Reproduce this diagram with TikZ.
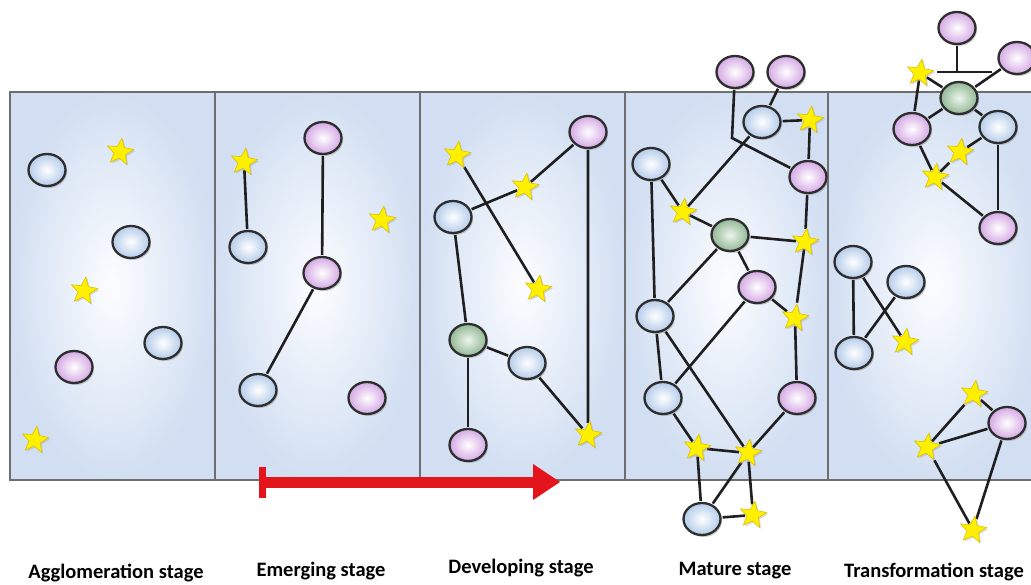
\documentclass[tikz,border=0pt]{standalone}
\usepackage{fontspec}
\setmainfont{Carlito}
\usetikzlibrary{shapes.geometric,shadows}
\pgfdeclarelayer{panellayer}
\pgfdeclarelayer{edgelayer}
\pgfsetlayers{panellayer,edgelayer,main}
\definecolor{bluefill}{HTML}{B4CCEA}
\definecolor{pinkfill}{HTML}{D4A8E4}
\definecolor{greenfill}{HTML}{A2CCA4}
\definecolor{starfill}{HTML}{FFF000}
\definecolor{starline}{HTML}{D9C200}
\definecolor{panelout}{HTML}{D2DFF2}
\definecolor{panelin}{HTML}{FCFDFF}
\definecolor{panelline}{HTML}{6E6E6E}
\definecolor{arrowred}{HTML}{E3141C}
\begin{document}
\begin{tikzpicture}[x=1pt,y=-1pt,
  ball/.style={ellipse, minimum width=37pt, minimum height=32pt, inner sep=0pt,
    draw=black!82, line width=2.3pt,
    drop shadow={shadow xshift=1.5pt, shadow yshift=-2pt, fill=black!45, opacity=.45}},
  bball/.style={ball, inner color=white, outer color=bluefill},
  pball/.style={ball, inner color=white, outer color=pinkfill},
  gball/.style={ball, inner color=white!80!greenfill, outer color=greenfill!90!black},
  starn/.style={star, star points=5, star point ratio=2.3, minimum size=28pt, inner sep=0pt,
    fill=starfill, draw=starline, line width=0.6pt, rotate=-8,
    drop shadow={shadow xshift=1.5pt, shadow yshift=-1.5pt, fill=black!40, opacity=.35}},
  edge/.style={line width=2.6pt, draw=black!88, shorten <=1pt, shorten >=1pt},
  lbl/.style={font=\bfseries\fontsize{20.5}{24}\selectfont, anchor=base, inner sep=0pt}
]
\useasboundingbox (0,0) rectangle (1031,585);

% panels
\begin{pgfonlayer}{panellayer}
  \shade[inner color=panelin, outer color=panelout] (10,92) rectangle (215,480);
  \shade[inner color=panelin, outer color=panelout] (215,92) rectangle (420,480);
  \shade[inner color=panelin, outer color=panelout] (420,92) rectangle (625,480);
  \shade[inner color=panelin, outer color=panelout] (625,92) rectangle (828,480);
  \shade[inner color=panelin, outer color=panelout] (828,92) rectangle (1040,480);
  \draw[panelline, line width=1.5pt] (10,92) rectangle (1040,480);
  \foreach \xx in {215,420,625,828} \draw[panelline, line width=1.2pt] (\xx,92) -- (\xx,480);
\end{pgfonlayer}

% ---- panel 1 : Agglomeration
\node[bball] (a1) at (47,170) {};
\node[starn] (a2) at (120,152) {};
\node[bball] (a3) at (131,242) {};
\node[starn] (a4) at (84,291) {};
\node[bball] (a5) at (163,343) {};
\node[pball] (a6) at (74,367) {};
\node[starn] (a7) at (35,440) {};

% ---- panel 2 : Emerging
\node[starn] (b1) at (244,162) {};
\node[pball] (b2) at (323,138) {};
\node[starn] (b3) at (382,220) {};
\node[bball] (b4) at (248,247) {};
\node[pball] (b5) at (322,273) {};
\node[bball] (b6) at (258,390) {};
\node[pball] (b7) at (367,398) {};

% ---- panel 3 : Developing
\node[pball] (c1) at (588,132) {};
\node[starn] (c2) at (457,155) {};
\node[starn] (c3) at (525,187) {};
\node[bball] (c4) at (453,217) {};
\node[starn] (c5) at (538,289) {};
\node[gball] (c6) at (468,340) {};
\node[bball] (c7) at (527,363) {};
\node[starn] (c8) at (588,435) {};
\node[pball] (c9) at (468,445) {};

% ---- panel 4 : Mature
\node[pball] (dA) at (735,72) {};
\node[pball] (dB) at (786,72) {};
\node[bball] (dC) at (762,122) {};
\node[starn] (dD) at (810,120) {};
\node[bball] (dE) at (651,164) {};
\node[pball] (dF) at (808,177) {};
\node[starn] (dG) at (683,212) {};
\node[gball] (dH) at (730,235) {};
\node[starn] (dI) at (805,242) {};
\node[pball] (dJ) at (757,287) {};
\node[bball] (dK) at (655,316) {};
\node[starn] (dL) at (795,318) {};
\node[bball] (dM) at (663,398) {};
\node[pball] (dN) at (797,398) {};
\node[starn] (dO) at (697,448) {};
\node[starn] (dP) at (748,453) {};
\node[bball] (dQ) at (702,519) {};
\node[starn] (dR) at (753,515) {};
\coordinate (dbend) at (732,138);

% ---- panel 5 : Transformation
\node[pball] (eT) at (957,28) {};
\node[pball] (eU) at (1017,58) {};
\coordinate (etb) at (957,72);
\coordinate (ebl) at (937,72);
\coordinate (ebr) at (992,72);
\node[starn] (eV) at (920,73) {};
\node[gball] (eW) at (959,98) {};
\node[pball] (eX) at (912,129) {};
\node[bball] (eY) at (998,127) {};
\node[starn] (eZ) at (960,152) {};
\node[starn] (eAA) at (935,177) {};
\node[pball] (eAB) at (998,228) {};
\node[bball] (eAC) at (853,262) {};
\node[bball] (eAD) at (906,282) {};
\node[bball] (eAE) at (854,353) {};
\node[starn] (eAF) at (905,342) {};
\node[starn] (eAG) at (974,394) {};
\node[pball] (eAH) at (1007,423) {};
\node[starn] (eAI) at (927,447) {};
\node[starn] (eAJ) at (973,530) {};

% ---- connectors
\begin{pgfonlayer}{edgelayer}
  \draw[edge] (b1) -- (b4);
  \draw[edge] (b2) -- (b5);
  \draw[edge] (b5) -- (b6);

  \draw[edge] (c4) -- (c3);
  \draw[edge] (c3) -- (c1);
  \draw[edge] (c2) -- (c5);
  \draw[edge] (c4) -- (c6);
  \draw[edge] (c6) -- (c7);
  \draw[edge] (c7) -- (c8);
  \draw[edge] (c1) -- (c8);
  \draw[edge] (c6) -- (c9);

  \draw[edge] (dA) -- (dbend) -- (dF);
  \draw[edge] (dB) -- (dC);
  \draw[edge] (dC) -- (dD);
  \draw[edge] (dD) -- (dF);
  \draw[edge] (dC) -- (dG);
  \draw[edge] (dE) -- (dG);
  \draw[edge] (dG) -- (dH);
  \draw[edge] (dH) -- (dI);
  \draw[edge] (dF) -- (dI);
  \draw[edge] (dH) -- (dJ);
  \draw[edge] (dH) -- (dK);
  \draw[edge] (dI) -- (dL);
  \draw[edge] (dJ) -- (dL);
  \draw[edge] (dE) -- (dK);
  \draw[edge] (dJ) -- (dM);
  \draw[edge] (dK) -- (dM);
  \draw[edge] (dK) -- (dP);
  \draw[edge] (dL) -- (dN);
  \draw[edge] (dM) -- (dO);
  \draw[edge] (dO) -- (dP);
  \draw[edge] (dN) -- (dP);
  \draw[edge] (dO) -- (dQ);
  \draw[edge] (dP) -- (dQ);
  \draw[edge] (dP) -- (dR);
  \draw[edge] (dQ) -- (dR);

  \draw[edge, shorten >=0pt] (eT) -- (etb);
  \draw[edge, shorten <=0pt, shorten >=0pt] (ebl) -- (ebr);
  \draw[edge] (eV) -- (eW);
  \draw[edge] (eU) -- (eW);
  \draw[edge] (eV) -- (eX);
  \draw[edge] (eX) -- (eW);
  \draw[edge] (eW) -- (eY);
  \draw[edge] (eY) -- (eZ);
  \draw[edge] (eZ) -- (eAA);
  \draw[edge] (eX) -- (eAA);
  \draw[edge] (eAA) -- (eAB);
  \draw[edge] (eY) -- (eAB);
  \draw[edge] (eAC) -- (eAE);
  \draw[edge] (eAC) -- (eAF);
  \draw[edge] (eAD) -- (eAE);
  \draw[edge] (eAG) -- (eAI);
  \draw[edge] (eAG) -- (eAH);
  \draw[edge] (eAI) -- (eAH);
  \draw[edge] (eAI) -- (eAJ);
  \draw[edge] (eAH) -- (eAJ);
\end{pgfonlayer}

% ---- red time arrow
\coordinate (arS) at (262,482);
\coordinate (arE) at (560,482);
\fill[arrowred] ([xshift=-3.5pt,yshift=-15.5pt]arS) rectangle ([xshift=3.5pt,yshift=15.5pt]arS);
\fill[arrowred] ([yshift=-5.5pt]arS) rectangle ([xshift=-26pt,yshift=5.5pt]arE);
\fill[arrowred] ([xshift=-27pt,yshift=-18pt]arE) -- (arE) -- ([xshift=-27pt,yshift=18pt]arE) -- cycle;

% ---- labels
\node[lbl] (l1) at (116,578) {Agglomeration stage};
\node[lbl] (l2) at (321,576) {Emerging stage};
\node[lbl] (l3) at (521,573) {Developing stage};
\node[lbl] (l4) at (735,575) {Mature stage};
\node[lbl] (l5) at (934,577) {Transformation stage};
\end{tikzpicture}
\end{document}
